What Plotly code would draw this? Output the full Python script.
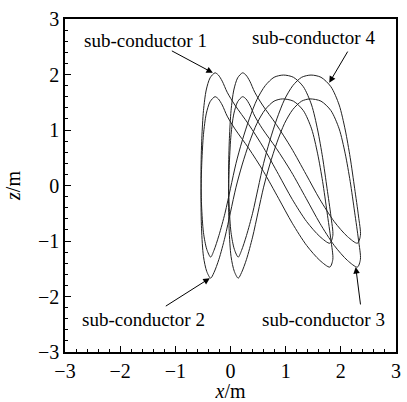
import plotly.graph_objects as go

# sub-conductor trajectories (x, z)
c1_x = [-0.28, -0.37, -0.44, -0.49, -0.52, -0.535, -0.525, -0.49, -0.43, -0.36, -0.30, -0.21, -0.10, 0.00, 0.10, 0.21, 0.34, 0.48, 0.63, 0.79, 0.96, 1.14, 1.32, 1.47, 1.58, 1.67, 1.75, 1.82, 1.855, 1.80, 1.62, 1.38, 1.12, 0.87, 0.60, 0.33, 0.08, -0.06, -0.15, -0.22, -0.28]
c1_z = [2.03, 1.94, 1.72, 1.35, 0.85, 0.25, -0.35, -0.85, -1.15, -1.29, -1.17, -0.90, -0.50, -0.05, 0.40, 0.80, 1.20, 1.55, 1.80, 1.95, 1.99, 1.95, 1.78, 1.45, 1.00, 0.50, -0.05, -0.55, -0.90, -1.04, -0.92, -0.65, -0.25, 0.20, 0.68, 1.10, 1.45, 1.68, 1.88, 1.99, 2.03]

c2_x = [-0.28, -0.37, -0.44, -0.49, -0.52, -0.535, -0.525, -0.49, -0.43, -0.36, -0.30, -0.21, -0.10, 0.00, 0.10, 0.21, 0.34, 0.48, 0.63, 0.79, 0.94, 1.14, 1.32, 1.47, 1.58, 1.67, 1.75, 1.82, 1.855, 1.80, 1.62, 1.38, 1.12, 0.87, 0.60, 0.33, 0.08, -0.06, -0.15, -0.22, -0.28]
c2_z = [1.60, 1.51, 1.29, 0.92, 0.42, -0.18, -0.78, -1.28, -1.55, -1.67, -1.57, -1.33, -0.93, -0.48, -0.03, 0.37, 0.77, 1.12, 1.37, 1.52, 1.56, 1.52, 1.35, 1.02, 0.57, 0.07, -0.48, -0.98, -1.33, -1.47, -1.35, -1.08, -0.68, -0.23, 0.25, 0.67, 1.02, 1.25, 1.45, 1.56, 1.60]

c3_x = [0.22, 0.13, 0.06, 0.01, -0.02, -0.035, -0.025, 0.01, 0.07, 0.14, 0.20, 0.29, 0.40, 0.50, 0.60, 0.71, 0.84, 0.98, 1.13, 1.29, 1.44, 1.64, 1.82, 1.97, 2.08, 2.17, 2.25, 2.32, 2.355, 2.30, 2.12, 1.88, 1.62, 1.37, 1.10, 0.83, 0.58, 0.44, 0.35, 0.28, 0.22]
c3_z = [1.60, 1.51, 1.29, 0.92, 0.42, -0.18, -0.78, -1.28, -1.55, -1.67, -1.57, -1.33, -0.93, -0.48, -0.03, 0.37, 0.77, 1.12, 1.37, 1.52, 1.56, 1.52, 1.35, 1.02, 0.57, 0.07, -0.48, -0.98, -1.33, -1.47, -1.35, -1.08, -0.68, -0.23, 0.25, 0.67, 1.02, 1.25, 1.45, 1.56, 1.60]

c4_x = [0.22, 0.13, 0.06, 0.01, -0.02, -0.035, -0.025, 0.01, 0.07, 0.14, 0.20, 0.29, 0.40, 0.50, 0.60, 0.71, 0.84, 0.98, 1.13, 1.29, 1.46, 1.64, 1.82, 1.97, 2.08, 2.17, 2.25, 2.32, 2.355, 2.30, 2.12, 1.88, 1.62, 1.37, 1.10, 0.83, 0.58, 0.44, 0.35, 0.28, 0.22]
c4_z = [2.03, 1.94, 1.72, 1.35, 0.85, 0.25, -0.35, -0.85, -1.15, -1.29, -1.17, -0.90, -0.50, -0.05, 0.40, 0.80, 1.20, 1.55, 1.80, 1.95, 1.99, 1.95, 1.78, 1.45, 1.00, 0.50, -0.05, -0.55, -0.90, -1.04, -0.92, -0.65, -0.25, 0.20, 0.68, 1.10, 1.45, 1.68, 1.88, 1.99, 2.03]

labels = ["sub-conductor 1", "sub-conductor 2", "sub-conductor 3", "sub-conductor 4"]
label_x = [-1.54, -1.57, 1.69, 1.50]
label_z = [2.62, -2.42, -2.42, 2.66]
arrow_head_x = [-0.32, -0.375, 2.27, 1.79]
arrow_head_z = [2.03, -1.67, -1.47, 1.85]
arrow_tail_x = [-1.09, -1.20, 2.36, 2.14]
arrow_tail_z = [2.44, -2.19, -2.17, 2.44]

ticks = [-3, -2, -1, 0, 1, 2, 3]

FONT = "Liberation Serif, Times New Roman, serif"

fig = go.Figure()
for xs, zs in [(c1_x, c1_z), (c2_x, c2_z), (c3_x, c3_z), (c4_x, c4_z)]:
    fig.add_trace(go.Scatter(x=xs, y=zs, mode="lines",
                             line=dict(color="#222222", width=1, shape="spline", smoothing=0.8),
                             showlegend=False, hoverinfo="skip"))

for i in range(4):
    fig.add_annotation(x=label_x[i], y=label_z[i], xref="x", yref="y", text=labels[i],
                       showarrow=False, font=dict(family=FONT, size=19, color="black"))
    fig.add_annotation(x=arrow_head_x[i], y=arrow_head_z[i], xref="x", yref="y",
                       ax=arrow_tail_x[i], ay=arrow_tail_z[i], axref="x", ayref="y",
                       text="", showarrow=True, arrowhead=2, arrowsize=1.3, arrowwidth=1,
                       arrowcolor="black", standoff=0, startstandoff=0)

axis_common = dict(range=[-3, 3], tickvals=ticks, ticks="inside", ticklen=6, tickwidth=1,
                   tickcolor="black", showline=True, linecolor="black", linewidth=1.5,
                   mirror=True, showgrid=False, zeroline=False,
                   tickfont=dict(family=FONT, size=20, color="black"),
                   minor=dict(dtick=0.2, ticks="inside", ticklen=3, tickcolor="black", tickwidth=1, showgrid=False))

fig.update_xaxes(**axis_common, title=dict(text="<i>x</i>/m", font=dict(family=FONT, size=20, color="black"), standoff=0))
fig.update_yaxes(**axis_common, title=dict(text="<i>z</i>/m", font=dict(family=FONT, size=20, color="black"), standoff=12))

fig.update_layout(width=407, height=402, margin=dict(l=65, r=6, t=19, b=50),
                  plot_bgcolor="white", paper_bgcolor="white")

fig.write_html("out.html")
